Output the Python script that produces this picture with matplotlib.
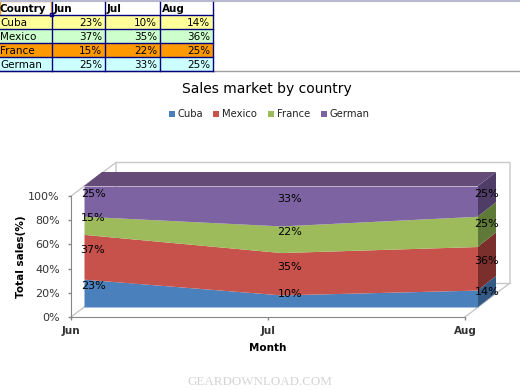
"""Excel style 3D stacked area chart with the source table above it."""

import matplotlib.pyplot as plt
from matplotlib.patches import Rectangle
from matplotlib.transforms import Affine2D, IdentityTransform

months = ['Jun', 'Jul', 'Aug']
countries = ['Cuba', 'Mexico', 'France', 'German']
cuba = [23, 10, 14]
mexico = [37, 35, 36]
france = [15, 22, 25]
german = [25, 33, 25]
y_ticks = [0, 20, 40, 60, 80, 100]

series = [cuba, mexico, france, german]
area_colors = ['#4A81BC', '#C7514B', '#9DBB5A', '#7E63A3']
side_colors = ['#335A84', '#7B2F2D', '#5F7A38', '#4F3D68']
top_color = '#654C78'
row_colors = ['#FFFF99', '#CCFFCC', '#FF9900', '#CCFFFF']
NAVY = '#000080'
WALL = '#C8C8C8'

W, H = 520, 390
AX_L, AX_R, AX_TOP, AX_BOT = 71, 465, 196, 317

fig = plt.figure(figsize=(W / 100, H / 100), dpi=100)
fig.patch.set_facecolor('white')

# overlay in pixel coordinates, y going down like the screenshot
over = fig.add_axes([0, 0, 1, 1], zorder=0)
over.set_xlim(0, W)
over.set_ylim(H, 0)
over.axis('off')

ax = fig.add_axes([AX_L / W, 1 - AX_BOT / H, (AX_R - AX_L) / W, (AX_BOT - AX_TOP) / H],
                  zorder=1)
ax.patch.set_alpha(0)
ax.set_xlim(0, 2)
ax.set_ylim(0, 100)


def depth(dx, dy):
    """Transform shifting data by a depth offset in pixels."""
    return ax.transData + Affine2D().translate(dx, dy)


def face(x_value, y_low, y_high, color):
    """Fill the slanted face between the front and back depth."""
    corners = [front.transform((x_value[0], y_low)), front.transform((x_value[1], y_high)),
               back.transform((x_value[1], y_high)), back.transform((x_value[0], y_low))]
    ax.fill([c[0] for c in corners], [c[1] for c in corners], color=color, lw=0,
            transform=IdentityTransform(), zorder=3, clip_on=False)


front = depth(13, 10)
middle = depth(22, 17)
back = depth(31, 24)
x = list(range(len(months)))

# walls behind the areas
over.plot([116, 510, 510, 465], [162.5, 162.5, 283, 317], color=WALL, lw=1)
over.plot([116, 510], [283, 283], color=WALL, lw=1)
over.plot([116, 116, 71], [283, 162.5, 196], color=WALL, lw=1)
over.plot([71, 116], [317, 283], color=WALL, lw=1)

# stacked areas, their end faces and the top face
base = [0, 0, 0]
for i, values in enumerate(series):
    upper = [b + v for b, v in zip(base, values)]
    ax.fill_between(x, base, upper, color=area_colors[i], lw=0, transform=front, zorder=3,
                    clip_on=False)
    face((2, 2), base[2], upper[2], side_colors[i])
    for j, value in enumerate(values):
        ax.text(j, base[j] + value / 2, f'{value}%', transform=middle, ha='center',
                va='center', fontsize=8, color='black', zorder=5, clip_on=False)
    base = upper
face((0, 2), 100, 100, top_color)

# axes
for side in ['top', 'right']:
    ax.spines[side].set_visible(False)
for side in ['left', 'bottom']:
    ax.spines[side].set_color('#868686')
ax.set_xticks(x, months, fontsize=7.5, fontweight='bold', color='#333333')
ax.set_yticks(y_ticks, [f'{t}%' for t in y_ticks], fontsize=8, color='#333333')
ax.tick_params(axis='both', color='#868686', length=2, width=1)
ax.tick_params(axis='y', pad=6)
ax.tick_params(axis='x', pad=4.5)
ax.set_xlabel('Month', fontsize=7.5, fontweight='bold', labelpad=5)
ax.set_ylabel('Total sales(%)', fontsize=7.5, fontweight='bold', labelpad=1.5)

over.text(267, 89, 'Sales market by country', fontsize=10, ha='center', va='center')

# legend
legend_x = [169, 213, 268, 321]
for name, color, lx in zip(countries, area_colors, legend_x):
    over.add_patch(Rectangle((lx, 111), 6, 6, color=color, lw=0))
    over.text(lx + 9, 114, name, fontsize=7.2, va='center', color='#222222')

# spreadsheet table
col_x = [0, 52, 105, 160, 213]
row_y = [2, 15, 29, 43, 57, 71]
over.plot([0, W], [1, 1], color='#B8B8D0', lw=1.5)
over.plot([0, W], [71, 71], color='#A0A0A0', lw=1)
for r, (name, color) in enumerate(zip(countries, row_colors)):
    over.add_patch(Rectangle((0, row_y[r + 1]), col_x[-1], row_y[r + 2] - row_y[r + 1],
                             color=color, lw=0))
    over.text(0, row_y[r + 1] + 7.5, name, fontsize=7.5, va='center', color='black')
    for c, month_values in enumerate(zip(*series)):
        over.text(col_x[c + 2] - 3, row_y[r + 1] + 7.5, f'{month_values[r]}%', fontsize=7.5,
                  ha='right', va='center', color='black')
over.text(0, 9, 'Country', fontsize=7.5, fontweight='bold', va='center', color='black')
for c, month in enumerate(months):
    over.text(col_x[c + 1] + 2, 9, month, fontsize=7.5, fontweight='bold', va='center',
              color='black')
for cx in col_x[1:]:
    over.plot([cx, cx], [row_y[0], row_y[-1]], color=NAVY, lw=1)
for ry in row_y[1:]:
    over.plot([0, col_x[-1]], [ry, ry], color=NAVY, lw=1)
over.add_patch(Rectangle((0, 1), 51, 14, fill=False, ec='#E0A030', lw=1))
over.add_patch(Rectangle((49.5, 13), 3, 3, fc='white', ec=NAVY, lw=1))

over.text(260, 382, 'GEARDOWNLOAD.COM', fontsize=9.4, family='Liberation Serif', ha='center',
          va='center', color='#D4D4D4')

fig.savefig('out.png', dpi=100)
